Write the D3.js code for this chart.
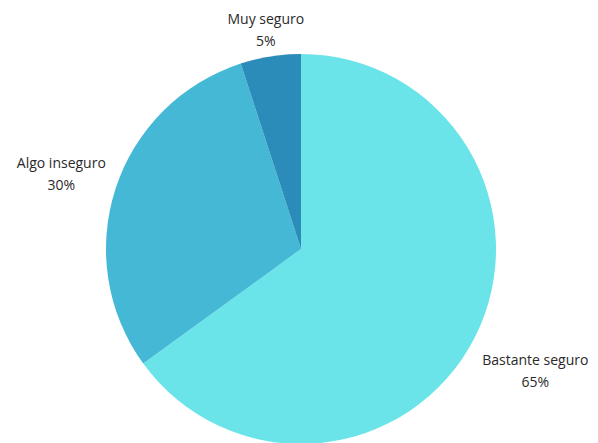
<!DOCTYPE html>
<html><head><meta charset="utf-8">
<script src="https://cdn.jsdelivr.net/npm/d3@7"></script>
<style>html,body{margin:0;padding:0;background:#fff;}svg{display:block;}</style>
</head><body>
<script>
const categories = ["Bastante seguro", "Algo inseguro", "Muy seguro"];
const values = [65, 30, 5];
const valueLabels = ["65%", "30%", "5%"];
const colors = ["#6ae4e8", "#45b8d6", "#2b8cba"];

const W = 598, H = 443, cx = 301, cy = 249, R = 195;
// label anchor distance from centre (layout, per slice)
const labelRadius = [263, 252, 225];

const svg = d3.select("body").append("svg").attr("width", W).attr("height", H);
const g = svg.append("g").attr("transform", `translate(${cx},${cy})`);

const pie = d3.pie().sort(null).value(d => d)(values);
const arc = d3.arc().innerRadius(0).outerRadius(R);
const color = d3.scaleOrdinal().domain(categories).range(colors);

g.selectAll("path").data(pie).enter().append("path")
  .attr("d", arc)
  .attr("fill", (d, i) => color(categories[i]));

const lab = g.selectAll("g.lab").data(pie).enter().append("g")
  .attr("transform", (d, i) => {
    const a = (d.startAngle + d.endAngle) / 2;
    const r = labelRadius[i];
    return `translate(${r * Math.sin(a)},${-r * Math.cos(a)})`;
  });
lab.append("text").attr("text-anchor", "middle").attr("y", -3)
  .style("font-family", "'Open Sans', sans-serif").style("font-size", "14px").attr("fill", "#2a2a2a")
  .text((d, i) => categories[i]);
lab.append("text").attr("text-anchor", "middle").attr("y", 19)
  .style("font-family", "'Open Sans', sans-serif").style("font-size", "14px").attr("fill", "#2a2a2a")
  .text((d, i) => valueLabels[i]);
</script>
</body></html>
